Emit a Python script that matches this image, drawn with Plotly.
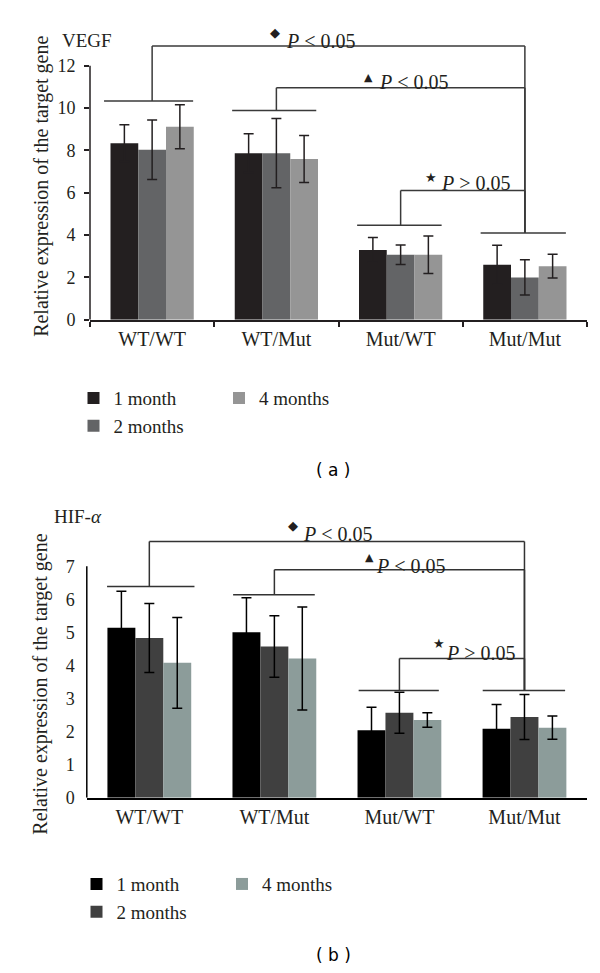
import plotly.graph_objects as go

categories = ["WT/WT", "WT/Mut", "Mut/WT", "Mut/Mut"]
series_names = ["1 month", "2 months", "4 months"]

# Panel (a): VEGF
vegf_1m = [8.34, 7.87, 3.30, 2.60]
vegf_2m = [8.03, 7.87, 3.07, 2.00]
vegf_4m = [9.12, 7.59, 3.07, 2.53]
vegf_err_1m = [0.87, 0.92, 0.58, 0.92]
vegf_err_2m = [1.41, 1.64, 0.46, 0.83]
vegf_err_4m = [1.04, 1.11, 0.89, 0.56]

# Panel (b): HIF-alpha
hif_1m = [5.14, 5.00, 2.04, 2.09]
hif_2m = [4.83, 4.57, 2.57, 2.44]
hif_4m = [4.08, 4.21, 2.35, 2.12]
hif_err_1m = [1.10, 1.05, 0.70, 0.73]
hif_err_2m = [1.04, 0.93, 0.62, 0.68]
hif_err_4m = [1.37, 1.56, 0.22, 0.35]

colors_a = ["#231f20", "#636466", "#959595"]
colors_b = ["#000000", "#404040", "#8c9c9a"]

# significance brackets: group lines (x0, x1, y) and brackets (left, top, text, symbol, sym x/y, text x/y)
group_lines_a = [(-0.387, 0.330, 10.33), (0.644, 1.321, 9.88), (1.650, 2.330, 4.47), (2.644, 3.330, 4.10)]
group_lines_b = [(-0.338, 0.361, 6.39), (0.670, 1.323, 6.14), (1.674, 2.315, 3.24), (2.666, 3.325, 3.24)]
brackets_a = [(0, 12.93, "<i>P</i> < 0.05", "◆", 0.988, 13.59, 1.06, 13.17),
              (1, 10.96, "<i>P</i> < 0.05", "▲", 1.742, 11.45, 1.81, 11.22),
              (2, 6.10, "<i>P</i> > 0.05", "★", 2.244, 6.72, 2.31, 6.48)]
brackets_b = [(0, 7.75, "<i>P</i> < 0.05", "◆", 1.148, 8.23, 1.21, 7.96),
              (1, 6.89, "<i>P</i> < 0.05", "▲", 1.760, 7.25, 1.80, 7.01),
              (2, 4.21, "<i>P</i> > 0.05", "★", 2.315, 4.67, 2.36, 4.39)]
symbol_sizes = {"◆": 13, "▲": 11, "★": 13}

SERIF = "Liberation Serif"
TXT = "#231f20"

fig = go.Figure()

def add_panel(vals, errs, colors, xa, ya, legends, ecolor):
    for i, (name, v, e, c) in enumerate(zip(series_names, vals, errs, colors)):
        fig.add_trace(go.Bar(
            x=categories, y=v, name=name, marker=dict(color=c, line=dict(width=0)),
            error_y=dict(type="data", array=e, visible=True, color=ecolor, thickness=1.5, width=5),
            xaxis=xa, yaxis=ya, legend=legends[i], offsetgroup=str(i),
        ))

add_panel([vegf_1m, vegf_2m, vegf_4m], [vegf_err_1m, vegf_err_2m, vegf_err_4m], colors_a,
          "x", "y", ["legend", "legend", "legend2"], "#231f20")
add_panel([hif_1m, hif_2m, hif_4m], [hif_err_1m, hif_err_2m, hif_err_4m], colors_b,
          "x2", "y2", ["legend3", "legend3", "legend4"], "#000000")

shapes = []
annotations = []

def add_brackets(group_lines, brackets, xr, yr, lc):
    line = dict(color=lc, width=1.5)
    for x0, x1, y in group_lines:
        shapes.append(dict(type="line", xref=xr, yref=yr, x0=x0, x1=x1, y0=y, y1=y, line=line))
    right_bottom = group_lines[3][2]
    for (left, top, txt, sym, sx, sy, tx, ty) in brackets:
        shapes.append(dict(type="line", xref=xr, yref=yr, x0=left, x1=left,
                           y0=group_lines[left][2], y1=top, line=line))
        shapes.append(dict(type="line", xref=xr, yref=yr, x0=left, x1=3, y0=top, y1=top, line=line))
        shapes.append(dict(type="line", xref=xr, yref=yr, x0=3, x1=3, y0=top, y1=right_bottom, line=line))
        annotations.append(dict(xref=xr, yref=yr, x=sx, y=sy, text=sym, showarrow=False,
                                font=dict(family="DejaVu Sans", size=symbol_sizes[sym], color=TXT),
                                xanchor="center", yanchor="middle"))
        annotations.append(dict(xref=xr, yref=yr, x=tx, y=ty, text=txt, showarrow=False,
                                font=dict(family=SERIF, size=20, color=TXT),
                                xanchor="left", yanchor="middle"))

add_brackets(group_lines_a, brackets_a, "x", "y", "#3a3a3a")
add_brackets(group_lines_b, brackets_b, "x2", "y2", "#333333")

# y axis lines (only up to the top tick)
shapes.append(dict(type="line", xref="paper", yref="y", x0=82/600, x1=82/600, y0=0, y1=12,
                   line=dict(color="#231f20", width=1.5)))
shapes.append(dict(type="line", xref="paper", yref="y2", x0=78.8/600, x1=78.8/600, y0=0, y1=7,
                   line=dict(color="#000000", width=1.5)))

# titles / labels
annotations += [
    dict(xref="paper", yref="paper", x=78.8/600, y=1-33/973, text="VEGF", showarrow=False,
         font=dict(family=SERIF, size=19, color=TXT), xanchor="center", yanchor="middle"),
    dict(xref="paper", yref="paper", x=70/600, y=1-514/973, text="HIF-<i>α</i>", showarrow=False,
         font=dict(family=SERIF, size=19, color=TXT), xanchor="center", yanchor="middle"),
    dict(xref="paper", yref="paper", x=32.7/600, y=1-180/973, text="Relative expression of the target gene",
         textangle=-90, showarrow=False, font=dict(family=SERIF, size=20, color=TXT),
         xanchor="center", yanchor="middle"),
    dict(xref="paper", yref="paper", x=32.7/600, y=1-683/973, text="Relative expression of the target gene",
         textangle=-90, showarrow=False, font=dict(family=SERIF, size=20, color=TXT),
         xanchor="center", yanchor="middle"),
    dict(xref="paper", yref="paper", x=325/600, y=1-467/973, text="( a )", showarrow=False,
         font=dict(family="DejaVu Sans", size=17, color="#000000"), xanchor="center", yanchor="middle"),
    dict(xref="paper", yref="paper", x=325/600, y=1-957/973, text="( b )", showarrow=False,
         font=dict(family="DejaVu Sans", size=17, color="#000000"), xanchor="center", yanchor="middle"),
]

legend_common = dict(font=dict(family=SERIF, size=19, color=TXT), bgcolor="rgba(0,0,0,0)",
                     orientation="v", xanchor="left", yanchor="top", borderwidth=0, traceorder="normal")

fig.update_layout(
    width=600, height=973,
    margin=dict(l=0, r=0, t=0, b=0),
    paper_bgcolor="white", plot_bgcolor="white",
    barmode="group", bargap=0.33, bargroupgap=0,
    font=dict(family=SERIF, color=TXT),
    showlegend=True,
    xaxis=dict(domain=[82/600, 579/600], anchor="y", type="category", range=[-0.5, 3.5],
               showline=True, linecolor="#231f20", linewidth=1.5, ticks="outside", tickson="boundaries",
               ticklen=5, tickwidth=1.5, tickcolor="#231f20", showgrid=False,
               tickfont=dict(family=SERIF, size=20, color=TXT)),
    yaxis=dict(domain=[1-315/973, 1-19.8/973], anchor="x", range=[0, 13.8], showline=False,
               tickvals=[0, 2, 4, 6, 8, 10, 12], ticks="outside", ticklen=5, tickwidth=1.5,
               tickcolor="#231f20", showgrid=False, zeroline=False, ticklabelstandoff=5,
               tickfont=dict(family=SERIF, size=18, color=TXT)),
    xaxis2=dict(domain=[78.8/600, 579/600], anchor="y2", type="category", range=[-0.5, 3.5],
                showline=True, linecolor="#000000", linewidth=1.5, ticks="", showgrid=False,
                tickfont=dict(family=SERIF, size=20, color=TXT)),
    yaxis2=dict(domain=[1-798/973, 1-517.2/973], anchor="x2", range=[0, 8.4], showline=False,
                tickvals=[0, 1, 2, 3, 4, 5, 6, 7], ticks="", showgrid=False, zeroline=False,
                ticklabelstandoff=11, tickfont=dict(family=SERIF, size=18, color=TXT)),
    legend=dict(x=65.5/600, y=1-375/973, **legend_common),
    legend2=dict(x=211/600, y=1-375/973, **legend_common),
    legend3=dict(x=68.5/600, y=1-866/973, **legend_common),
    legend4=dict(x=214/600, y=1-866/973, **legend_common),
    shapes=shapes,
    annotations=annotations,
)

fig.write_html("out.html")
